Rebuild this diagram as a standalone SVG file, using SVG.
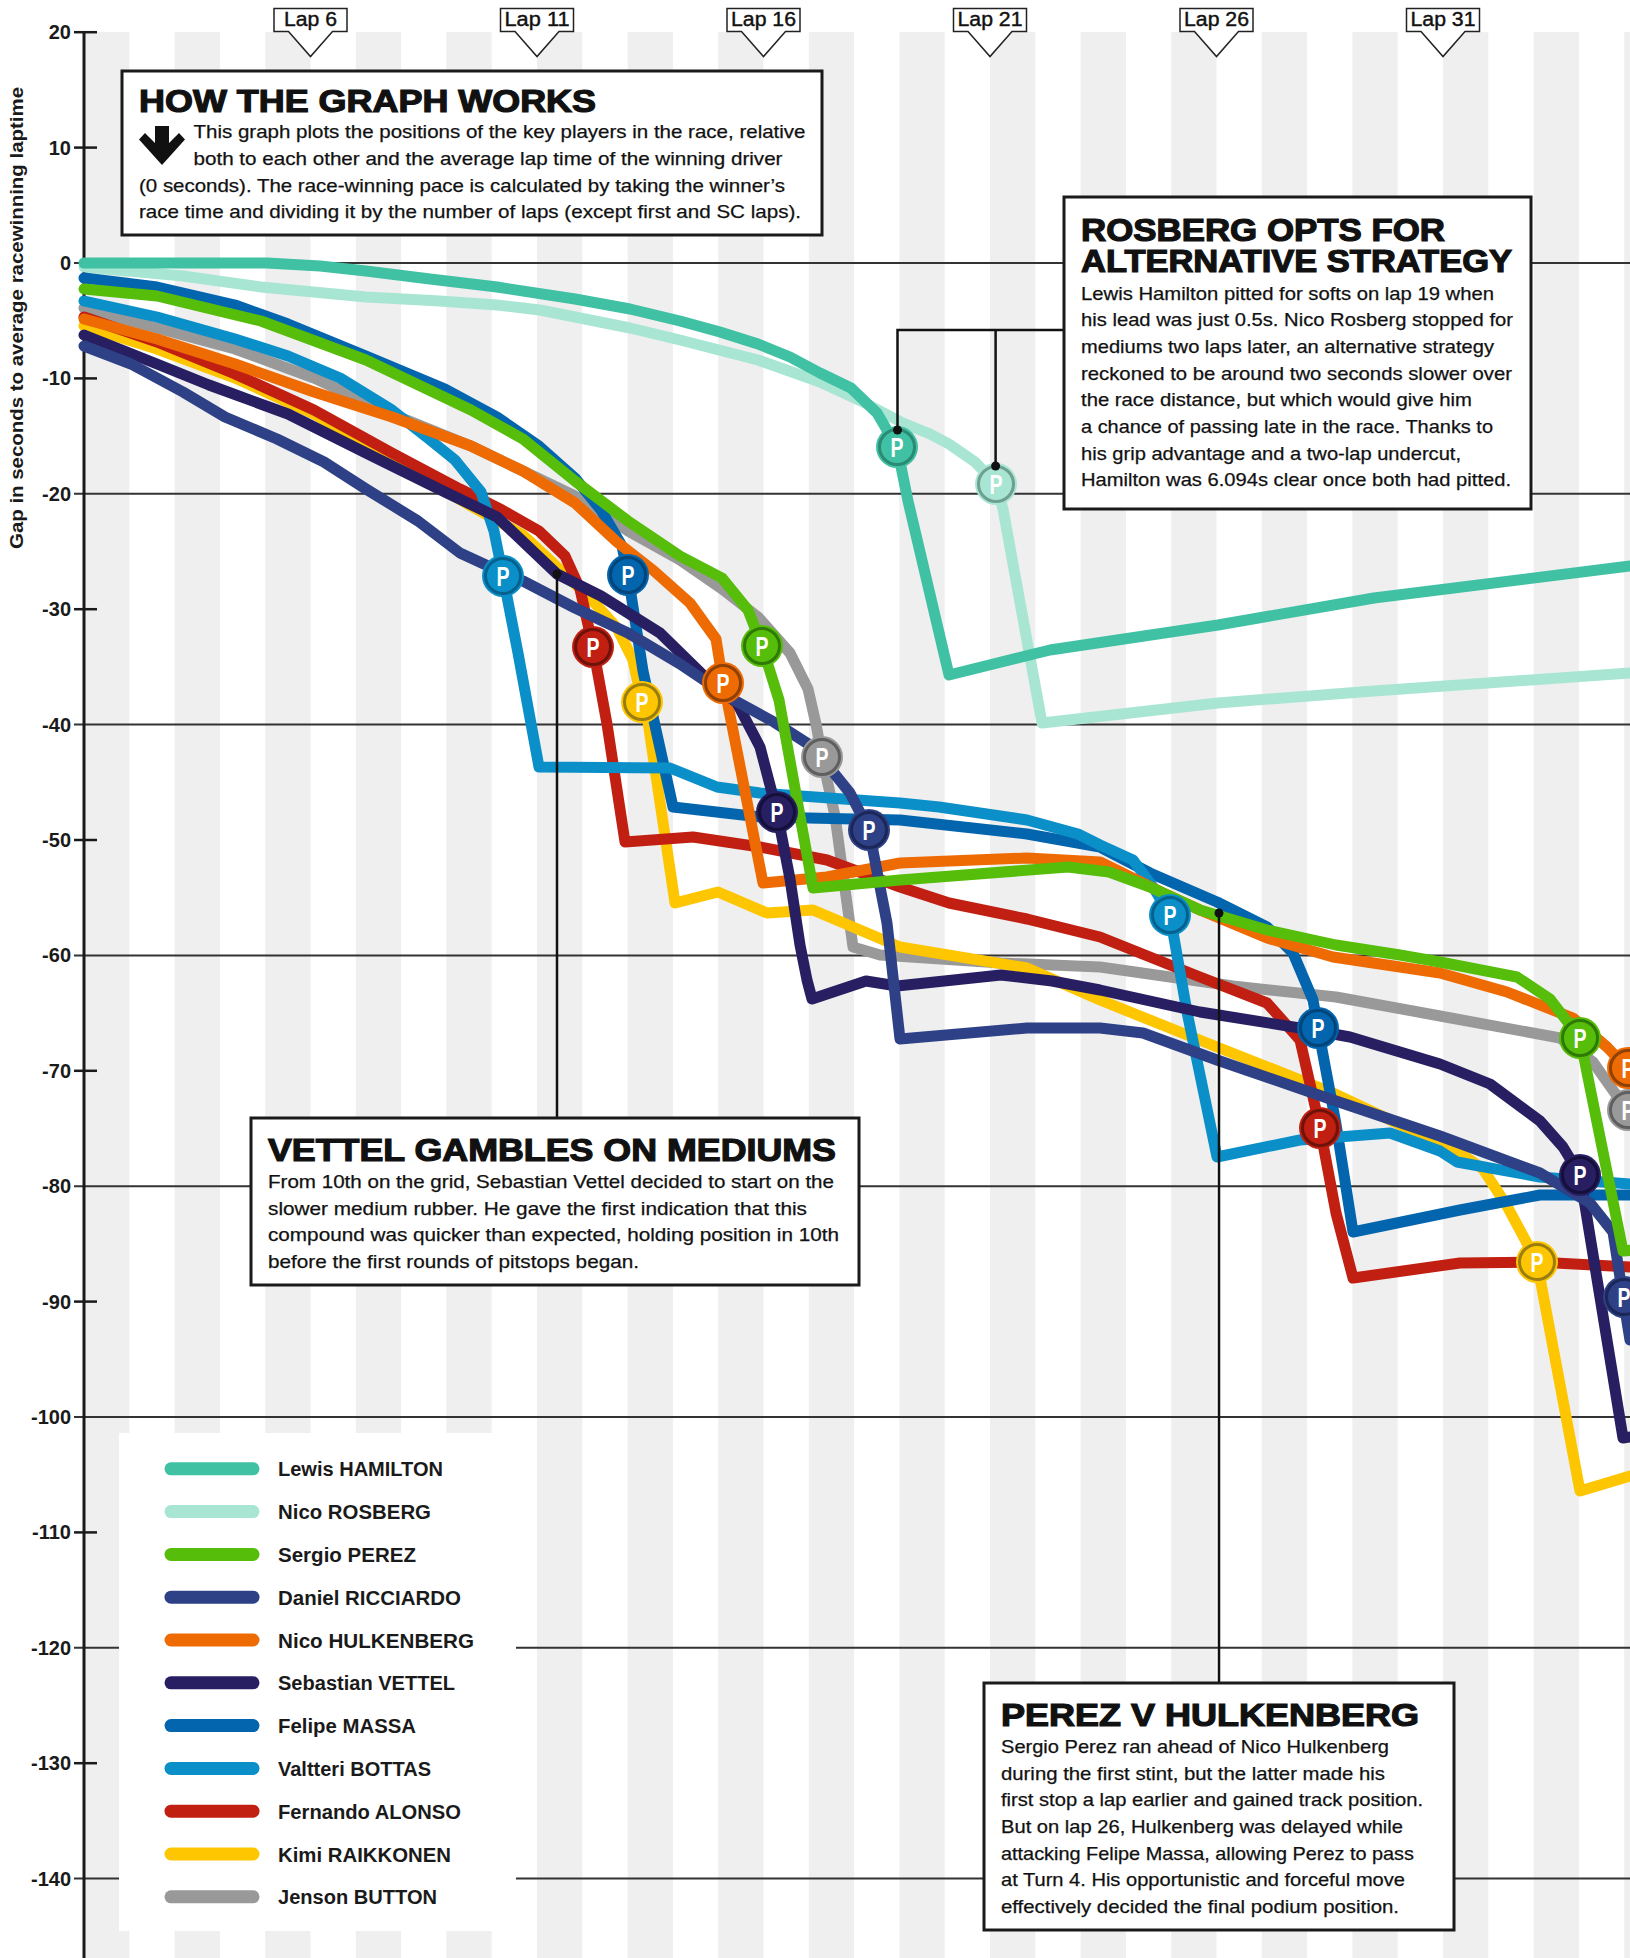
<svg xmlns="http://www.w3.org/2000/svg" width="1630" height="1958" viewBox="0 0 1630 1958">
<style>
.stripe{fill:#efefef}
.grid{stroke:#333;stroke-width:2}
.tick{stroke:#1a1a1a;stroke-width:2.5}
.axis{stroke:#1a1a1a;stroke-width:3}
.tl{font-family:'Liberation Sans Narrow','Liberation Sans',Arial,sans-serif;font-size:20px;font-weight:bold;fill:#1a1a1a;text-anchor:end}
.ln{fill:none;stroke-width:11;stroke-linejoin:round;stroke-linecap:round}
.box{fill:#fff;stroke:#1a1a1a;stroke-width:3}
.ttl{font-family:'Liberation Sans',Arial,sans-serif;font-weight:bold;font-size:31px;fill:#111;stroke:#111;stroke-width:1.2}
.bd{font-family:'Liberation Sans Narrow','Liberation Sans',Arial,sans-serif;font-size:18.5px;fill:#111;stroke:#111;stroke-width:0.25}
.conn{stroke:#111;stroke-width:2.5;fill:none}
.dot{fill:#111}
.lap{fill:#fff;stroke:#222;stroke-width:1.5}
.lt{font-family:'Liberation Sans Narrow','Liberation Sans',Arial,sans-serif;font-size:20px;fill:#111;stroke:#111;stroke-width:0.4;text-anchor:middle}
.pt{font-family:'Liberation Sans Narrow','Liberation Sans',Arial,sans-serif;font-weight:bold;font-size:27px;fill:#fff;text-anchor:middle}
.leg{font-family:'Liberation Sans Narrow','Liberation Sans',Arial,sans-serif;font-size:20px;font-weight:bold;fill:#1a1a1a}
.sw{stroke-width:13;stroke-linecap:round}
.ham{stroke:#40C1A4}.ros{stroke:#A8E6D3}.per{stroke:#56BD0A}.ric{stroke:#2E4187}.hul{stroke:#EE6A03}.vet{stroke:#281F63}.mas{stroke:#0365AE}.bot{stroke:#0A8FC9}.alo{stroke:#C11F12}.rai{stroke:#FDC601}.but{stroke:#999999}
</style>
<rect width="1630" height="1958" fill="#fff"/>
<g id="stripes">
<rect class="stripe" x="84" y="32" width="45.3" height="1926"/>
<rect class="stripe" x="174.6" y="32" width="45.3" height="1926"/>
<rect class="stripe" x="265.2" y="32" width="45.3" height="1926"/>
<rect class="stripe" x="355.8" y="32" width="45.3" height="1926"/>
<rect class="stripe" x="446.4" y="32" width="45.3" height="1926"/>
<rect class="stripe" x="537" y="32" width="45.3" height="1926"/>
<rect class="stripe" x="627.6" y="32" width="45.3" height="1926"/>
<rect class="stripe" x="718.2" y="32" width="45.3" height="1926"/>
<rect class="stripe" x="808.8" y="32" width="45.3" height="1926"/>
<rect class="stripe" x="899.4" y="32" width="45.3" height="1926"/>
<rect class="stripe" x="990" y="32" width="45.3" height="1926"/>
<rect class="stripe" x="1080.6" y="32" width="45.3" height="1926"/>
<rect class="stripe" x="1171.2" y="32" width="45.3" height="1926"/>
<rect class="stripe" x="1261.8" y="32" width="45.3" height="1926"/>
<rect class="stripe" x="1352.4" y="32" width="45.3" height="1926"/>
<rect class="stripe" x="1443" y="32" width="45.3" height="1926"/>
<rect class="stripe" x="1533.6" y="32" width="45.3" height="1926"/>
<rect class="stripe" x="1624.2" y="32" width="45.3" height="1926"/>
</g>
<g id="grid">
<line class="grid" x1="74" y1="263" x2="1630" y2="263"/>
<line class="grid" x1="74" y1="493.8" x2="1630" y2="493.8"/>
<line class="grid" x1="74" y1="724.6" x2="1630" y2="724.6"/>
<line class="grid" x1="74" y1="955.4" x2="1630" y2="955.4"/>
<line class="grid" x1="74" y1="1186.2" x2="1630" y2="1186.2"/>
<line class="grid" x1="74" y1="1417" x2="1630" y2="1417"/>
<line class="grid" x1="74" y1="1647.8" x2="1630" y2="1647.8"/>
<line class="grid" x1="74" y1="1878.6" x2="1630" y2="1878.6"/>
</g>
<g id="y-axis">
<line class="axis" x1="84" y1="32" x2="84" y2="1958"/>
<line class="tick" x1="74" y1="32.2" x2="97" y2="32.2"/>
<line class="tick" x1="74" y1="147.6" x2="97" y2="147.6"/>
<line class="tick" x1="74" y1="378.4" x2="97" y2="378.4"/>
<line class="tick" x1="74" y1="609.2" x2="97" y2="609.2"/>
<line class="tick" x1="74" y1="840" x2="97" y2="840"/>
<line class="tick" x1="74" y1="1070.8" x2="97" y2="1070.8"/>
<line class="tick" x1="74" y1="1301.6" x2="97" y2="1301.6"/>
<line class="tick" x1="74" y1="1532.4" x2="97" y2="1532.4"/>
<line class="tick" x1="74" y1="1763.2" x2="97" y2="1763.2"/>
<text class="tl" x="71" y="39.2">20</text>
<text class="tl" x="71" y="154.6">10</text>
<text class="tl" x="71" y="270">0</text>
<text class="tl" x="71" y="385.4">-10</text>
<text class="tl" x="71" y="500.8">-20</text>
<text class="tl" x="71" y="616.2">-30</text>
<text class="tl" x="71" y="731.6">-40</text>
<text class="tl" x="71" y="847">-50</text>
<text class="tl" x="71" y="962.4">-60</text>
<text class="tl" x="71" y="1077.8">-70</text>
<text class="tl" x="71" y="1193.2">-80</text>
<text class="tl" x="71" y="1308.6">-90</text>
<text class="tl" x="71" y="1424">-100</text>
<text class="tl" x="71" y="1539.4">-110</text>
<text class="tl" x="71" y="1654.8">-120</text>
<text class="tl" x="71" y="1770.2">-130</text>
<text class="tl" x="71" y="1885.6">-140</text>
<text transform="translate(23,318) rotate(-90)" text-anchor="middle" font-family="'Liberation Sans',Arial,sans-serif" font-size="18" font-weight="bold" fill="#1a1a1a" textLength="462" lengthAdjust="spacingAndGlyphs">Gap in seconds to average racewinning laptime</text>
</g>
<g id="connectors-data">
<polyline id="line-rosberg" class="ln ros" points="84,267 183,276 261,287 366,297 440,301 497,305 540,310 575,317 630,328 680,340 758,360 820,382 861,401 903,423 930,434 949,444 975,462 996,484 1003,509 1042,723 1218,703 1374,691 1630,673"/>
<polyline id="line-hamilton" class="ln ham" points="84,263 267,263 320,266 366,271 430,279 497,287 575,299 630,309 680,321 720,332 758,344 790,357 820,373 851,388 877,413 897,447 908,501 949,675 1050,650 1218,625 1374,598 1630,566"/>
<polyline id="line-button" class="ln but" points="84,308 157,328 235,349 314,378 392,414 471,446 523,471 575,496 628,531 680,560 722,589 758,617 790,653 808,689 816,724 822,757 835,816 853,947 880,955 1001,963 1100,967 1233,986 1336,997 1440,1016 1560,1038 1593,1062 1627,1110 1640,1140"/>
<polyline id="line-raikkonen" class="ln rai" points="84,326 157,349 235,378 314,414 392,460 471,506 523,535 554,564 591,599 617,628 633,660 642,702 648,722 675,903 718,892 767,913 813,910 860,930 900,947 1027,968 1100,1000 1217,1047 1333,1093 1460,1153 1483,1169 1507,1206 1537,1262 1580,1491 1630,1476"/>
<polyline id="line-alonso" class="ln alo" points="84,317 157,342 235,374 314,410 392,453 460,489 502,510 539,531 565,556 580,589 593,647 607,724 625,842 693,837 760,847 827,860 900,887 949,903 1027,919 1100,937 1200,977 1267,1003 1300,1040 1320,1128 1336,1213 1353,1278 1460,1263 1537,1262 1630,1267"/>
<polyline id="line-massa" class="ln mas" points="84,278 157,287 235,305 288,324 366,356 445,389 497,417 539,446 575,478 601,510 622,546 628,575 643,671 673,807 760,817 900,820 1027,834 1100,847 1150,873 1217,902 1267,927 1293,953 1313,1000 1318,1028 1336,1124 1353,1232 1460,1210 1540,1195 1630,1195"/>
<polyline id="line-bottas" class="ln bot" points="84,301 157,317 235,339 288,356 340,378 392,410 429,439 455,460 481,492 494,531 503,576 518,653 539,767 670,768 717,787 760,793 900,803 939,807 1027,820 1078,834 1100,845 1133,860 1153,887 1170,915 1187,1012 1217,1157 1300,1140 1390,1133 1440,1151 1457,1162 1540,1177 1630,1184"/>
<polyline id="line-hulkenberg" class="ln hul" points="84,319 157,339 235,364 314,392 392,417 471,446 523,471 575,503 617,542 654,571 690,603 716,639 723,683 727,700 763,883 827,877 900,863 1027,858 1100,862 1161,892 1200,910 1267,938 1333,957 1440,973 1507,992 1573,1018 1607,1047 1627,1068 1640,1100"/>
<polyline id="line-vettel" class="ln vet" points="84,335 157,364 209,385 288,414 366,453 445,492 497,517 557,574 601,596 660,633 706,678 737,703 760,747 777,812 790,879 800,945 807,980 812,999 866,981 897,986 1001,975 1052,981 1100,990 1200,1012 1300,1028 1350,1037 1440,1064 1490,1084 1540,1121 1563,1147 1580,1175 1623,1438 1645,1435"/>
<polyline id="line-ricciardo" class="ln ric" points="84,346 131,364 183,392 225,417 277,439 324,462 366,489 418,521 460,553 486,565 523,581 575,608 628,633 680,664 732,699 774,722 813,747 850,793 869,830 887,923 900,1039 1027,1028 1100,1028 1143,1033 1217,1060 1333,1100 1440,1136 1540,1173 1590,1203 1613,1232 1623,1297 1630,1340"/>
<polyline id="line-perez" class="ln per" points="84,289 157,296 261,321 366,360 471,410 523,439 575,481 628,521 680,556 722,578 748,610 762,646 779,700 813,888 900,880 1068,867 1109,872 1150,887 1200,910 1267,930 1336,945 1400,955 1440,962 1517,977 1550,999 1580,1038 1623,1251 1645,1249"/>
</g>
<g id="pitstops">
<g id="pit-hamilton"><circle cx="897" cy="447" r="21" fill="#40C1A4"/><circle cx="897" cy="447" r="17.5" fill="#40C1A4" stroke="#2a8a72" stroke-width="3"/><text class="pt" x="897" y="457" textLength="13" lengthAdjust="spacingAndGlyphs">P</text></g>
<g id="pit-rosberg"><circle cx="996" cy="484" r="21" fill="#A8E6D3"/><circle cx="996" cy="484" r="17.5" fill="#A8E6D3" stroke="#6f9f90" stroke-width="3"/><text class="pt" x="996" y="494" textLength="13" lengthAdjust="spacingAndGlyphs">P</text></g>
<g id="pit-bottas-1"><circle cx="503" cy="576" r="21" fill="#0A8FC9"/><circle cx="503" cy="576" r="17.5" fill="#0A8FC9" stroke="#05628f" stroke-width="3"/><text class="pt" x="503" y="586" textLength="13" lengthAdjust="spacingAndGlyphs">P</text></g>
<g id="pit-massa-1"><circle cx="628" cy="575" r="21" fill="#0365AE"/><circle cx="628" cy="575" r="17.5" fill="#0365AE" stroke="#02457a" stroke-width="3"/><text class="pt" x="628" y="585" textLength="13" lengthAdjust="spacingAndGlyphs">P</text></g>
<g id="pit-alonso-1"><circle cx="593" cy="647" r="21" fill="#C11F12"/><circle cx="593" cy="647" r="17.5" fill="#C11F12" stroke="#6e120a" stroke-width="3"/><text class="pt" x="593" y="657" textLength="13" lengthAdjust="spacingAndGlyphs">P</text></g>
<g id="pit-raikkonen-1"><circle cx="642" cy="702" r="21" fill="#FDC601"/><circle cx="642" cy="702" r="17.5" fill="#FDC601" stroke="#9a7d10" stroke-width="3"/><text class="pt" x="642" y="712" textLength="13" lengthAdjust="spacingAndGlyphs">P</text></g>
<g id="pit-hulkenberg-1"><circle cx="723" cy="683" r="21" fill="#EE6A03"/><circle cx="723" cy="683" r="17.5" fill="#EE6A03" stroke="#8f4005" stroke-width="3"/><text class="pt" x="723" y="693" textLength="13" lengthAdjust="spacingAndGlyphs">P</text></g>
<g id="pit-perez-1"><circle cx="762" cy="646" r="21" fill="#56BD0A"/><circle cx="762" cy="646" r="17.5" fill="#56BD0A" stroke="#2f7a06" stroke-width="3"/><text class="pt" x="762" y="656" textLength="13" lengthAdjust="spacingAndGlyphs">P</text></g>
<g id="pit-button-1"><circle cx="822" cy="757" r="21" fill="#999999"/><circle cx="822" cy="757" r="17.5" fill="#999999" stroke="#5f5f5f" stroke-width="3"/><text class="pt" x="822" y="767" textLength="13" lengthAdjust="spacingAndGlyphs">P</text></g>
<g id="pit-vettel-1"><circle cx="777" cy="812" r="21" fill="#281F63"/><circle cx="777" cy="812" r="17.5" fill="#281F63" stroke="#15103a" stroke-width="3"/><text class="pt" x="777" y="822" textLength="13" lengthAdjust="spacingAndGlyphs">P</text></g>
<g id="pit-ricciardo-1"><circle cx="869" cy="830" r="21" fill="#2E4187"/><circle cx="869" cy="830" r="17.5" fill="#2E4187" stroke="#1b2756" stroke-width="3"/><text class="pt" x="869" y="840" textLength="13" lengthAdjust="spacingAndGlyphs">P</text></g>
<g id="pit-bottas-2"><circle cx="1170" cy="915" r="21" fill="#0A8FC9"/><circle cx="1170" cy="915" r="17.5" fill="#0A8FC9" stroke="#05628f" stroke-width="3"/><text class="pt" x="1170" y="925" textLength="13" lengthAdjust="spacingAndGlyphs">P</text></g>
<g id="pit-massa-2"><circle cx="1318" cy="1028" r="21" fill="#0365AE"/><circle cx="1318" cy="1028" r="17.5" fill="#0365AE" stroke="#02457a" stroke-width="3"/><text class="pt" x="1318" y="1038" textLength="13" lengthAdjust="spacingAndGlyphs">P</text></g>
<g id="pit-alonso-2"><circle cx="1320" cy="1128" r="21" fill="#C11F12"/><circle cx="1320" cy="1128" r="17.5" fill="#C11F12" stroke="#6e120a" stroke-width="3"/><text class="pt" x="1320" y="1138" textLength="13" lengthAdjust="spacingAndGlyphs">P</text></g>
<g id="pit-raikkonen-2"><circle cx="1537" cy="1262" r="21" fill="#FDC601"/><circle cx="1537" cy="1262" r="17.5" fill="#FDC601" stroke="#9a7d10" stroke-width="3"/><text class="pt" x="1537" y="1272" textLength="13" lengthAdjust="spacingAndGlyphs">P</text></g>
<g id="pit-perez-2"><circle cx="1580" cy="1038" r="21" fill="#56BD0A"/><circle cx="1580" cy="1038" r="17.5" fill="#56BD0A" stroke="#2f7a06" stroke-width="3"/><text class="pt" x="1580" y="1048" textLength="13" lengthAdjust="spacingAndGlyphs">P</text></g>
<g id="pit-vettel-2"><circle cx="1580" cy="1175" r="21" fill="#281F63"/><circle cx="1580" cy="1175" r="17.5" fill="#281F63" stroke="#15103a" stroke-width="3"/><text class="pt" x="1580" y="1185" textLength="13" lengthAdjust="spacingAndGlyphs">P</text></g>
<g id="pit-hulkenberg-2"><circle cx="1628" cy="1068" r="21" fill="#EE6A03"/><circle cx="1628" cy="1068" r="17.5" fill="#EE6A03" stroke="#8f4005" stroke-width="3"/><text class="pt" x="1628" y="1078" textLength="13" lengthAdjust="spacingAndGlyphs">P</text></g>
<g id="pit-button-2"><circle cx="1628" cy="1110" r="21" fill="#999999"/><circle cx="1628" cy="1110" r="17.5" fill="#999999" stroke="#5f5f5f" stroke-width="3"/><text class="pt" x="1628" y="1120" textLength="13" lengthAdjust="spacingAndGlyphs">P</text></g>
<g id="pit-ricciardo-2"><circle cx="1624" cy="1297" r="21" fill="#2E4187"/><circle cx="1624" cy="1297" r="17.5" fill="#2E4187" stroke="#1b2756" stroke-width="3"/><text class="pt" x="1624" y="1307" textLength="13" lengthAdjust="spacingAndGlyphs">P</text></g>
</g>
<g id="connectors">
<polyline class="conn" points="1064,330 897.5,330 897.5,430"/>
<line class="conn" x1="995.6" y1="330" x2="995.6" y2="466"/>
<line class="conn" x1="557" y1="574" x2="557" y2="1118"/>
<line class="conn" x1="1219" y1="913" x2="1219" y2="1683"/>
<circle class="dot" cx="897.5" cy="430" r="4.5"/>
<circle class="dot" cx="995.6" cy="466" r="4.5"/>
<circle class="dot" cx="557" cy="574" r="4.5"/>
<circle class="dot" cx="1219" cy="913" r="4.5"/>
</g>
<g id="box-how">
<rect class="box" x="122" y="71" width="700" height="164"/>
<text class="ttl" x="139" y="111.5" textLength="457" lengthAdjust="spacingAndGlyphs">HOW THE GRAPH WORKS</text>
<path d="M155,126 H169 V143 L179,133 L185,139.5 L162,165 L139,139.5 L145,133 L155,143 Z" fill="#111"/>
<text class="bd" x="193.5" y="138" textLength="612" lengthAdjust="spacingAndGlyphs">This graph plots the positions of the key players in the race, relative</text>
<text class="bd" x="193.5" y="165" textLength="589" lengthAdjust="spacingAndGlyphs">both to each other and the average lap time of the winning driver</text>
<text class="bd" x="139" y="191.5" textLength="646" lengthAdjust="spacingAndGlyphs">(0 seconds). The race-winning pace is calculated by taking the winner’s</text>
<text class="bd" x="139" y="218" textLength="662" lengthAdjust="spacingAndGlyphs">race time and dividing it by the number of laps (except first and SC laps).</text>
</g>
<g id="box-rosberg">
<rect class="box" x="1064" y="197" width="467" height="312"/>
<text class="ttl" x="1081" y="240.5" textLength="364" lengthAdjust="spacingAndGlyphs">ROSBERG OPTS FOR</text>
<text class="ttl" x="1081" y="272" textLength="431" lengthAdjust="spacingAndGlyphs">ALTERNATIVE STRATEGY</text>
<text class="bd" x="1081" y="299.5" textLength="413" lengthAdjust="spacingAndGlyphs">Lewis Hamilton pitted for softs on lap 19 when</text>
<text class="bd" x="1081" y="326.2" textLength="432" lengthAdjust="spacingAndGlyphs">his lead was just 0.5s. Nico Rosberg stopped for</text>
<text class="bd" x="1081" y="352.9" textLength="413" lengthAdjust="spacingAndGlyphs">mediums two laps later, an alternative strategy</text>
<text class="bd" x="1081" y="379.6" textLength="431" lengthAdjust="spacingAndGlyphs">reckoned to be around two seconds slower over</text>
<text class="bd" x="1081" y="406.3" textLength="391" lengthAdjust="spacingAndGlyphs">the race distance, but which would give him</text>
<text class="bd" x="1081" y="433" textLength="412" lengthAdjust="spacingAndGlyphs">a chance of passing late in the race. Thanks to</text>
<text class="bd" x="1081" y="459.7" textLength="380" lengthAdjust="spacingAndGlyphs">his grip advantage and a two-lap undercut,</text>
<text class="bd" x="1081" y="486.4" textLength="430" lengthAdjust="spacingAndGlyphs">Hamilton was 6.094s clear once both had pitted.</text>
</g>
<g id="box-vettel">
<rect class="box" x="251" y="1118" width="608" height="167"/>
<text class="ttl" x="268" y="1160.5" textLength="568" lengthAdjust="spacingAndGlyphs">VETTEL GAMBLES ON MEDIUMS</text>
<text class="bd" x="268" y="1188" textLength="566" lengthAdjust="spacingAndGlyphs">From 10th on the grid, Sebastian Vettel decided to start on the</text>
<text class="bd" x="268" y="1214.7" textLength="539" lengthAdjust="spacingAndGlyphs">slower medium rubber. He gave the first indication that this</text>
<text class="bd" x="268" y="1241.4" textLength="571" lengthAdjust="spacingAndGlyphs">compound was quicker than expected, holding position in 10th</text>
<text class="bd" x="268" y="1268" textLength="371" lengthAdjust="spacingAndGlyphs">before the first rounds of pitstops began.</text>
</g>
<g id="box-perez">
<rect class="box" x="984" y="1683" width="470" height="247"/>
<text class="ttl" x="1001" y="1725.5" textLength="418" lengthAdjust="spacingAndGlyphs">PEREZ V HULKENBERG</text>
<text class="bd" x="1001" y="1753" textLength="388" lengthAdjust="spacingAndGlyphs">Sergio Perez ran ahead of Nico Hulkenberg</text>
<text class="bd" x="1001" y="1779.7" textLength="384" lengthAdjust="spacingAndGlyphs">during the first stint, but the latter made his</text>
<text class="bd" x="1001" y="1806.3" textLength="422" lengthAdjust="spacingAndGlyphs">first stop a lap earlier and gained track position.</text>
<text class="bd" x="1001" y="1833" textLength="402" lengthAdjust="spacingAndGlyphs">But on lap 26, Hulkenberg was delayed while</text>
<text class="bd" x="1001" y="1859.6" textLength="413" lengthAdjust="spacingAndGlyphs">attacking Felipe Massa, allowing Perez to pass</text>
<text class="bd" x="1001" y="1886.2" textLength="404" lengthAdjust="spacingAndGlyphs">at Turn 4. His opportunistic and forceful move</text>
<text class="bd" x="1001" y="1912.8" textLength="398" lengthAdjust="spacingAndGlyphs">effectively decided the final podium position.</text>
</g>
<g id="legend">
<rect x="119" y="1433" width="397" height="498" fill="#fff"/>
<line class="sw ham" x1="171" y1="1468.8" x2="253" y2="1468.8"/><text class="leg" x="278" y="1476.3" textLength="165" lengthAdjust="spacingAndGlyphs">Lewis HAMILTON</text>
<line class="sw ros" x1="171" y1="1511.6" x2="253" y2="1511.6"/><text class="leg" x="278" y="1519.1" textLength="153" lengthAdjust="spacingAndGlyphs">Nico ROSBERG</text>
<line class="sw per" x1="171" y1="1554.4" x2="253" y2="1554.4"/><text class="leg" x="278" y="1561.9" textLength="138" lengthAdjust="spacingAndGlyphs">Sergio PEREZ</text>
<line class="sw ric" x1="171" y1="1597.2" x2="253" y2="1597.2"/><text class="leg" x="278" y="1604.7" textLength="183" lengthAdjust="spacingAndGlyphs">Daniel RICCIARDO</text>
<line class="sw hul" x1="171" y1="1640" x2="253" y2="1640"/><text class="leg" x="278" y="1647.5" textLength="196" lengthAdjust="spacingAndGlyphs">Nico HULKENBERG</text>
<line class="sw vet" x1="171" y1="1682.8" x2="253" y2="1682.8"/><text class="leg" x="278" y="1690.3" textLength="177" lengthAdjust="spacingAndGlyphs">Sebastian VETTEL</text>
<line class="sw mas" x1="171" y1="1725.6" x2="253" y2="1725.6"/><text class="leg" x="278" y="1733.1" textLength="138" lengthAdjust="spacingAndGlyphs">Felipe MASSA</text>
<line class="sw bot" x1="171" y1="1768.4" x2="253" y2="1768.4"/><text class="leg" x="278" y="1775.9" textLength="153" lengthAdjust="spacingAndGlyphs">Valtteri BOTTAS</text>
<line class="sw alo" x1="171" y1="1811.2" x2="253" y2="1811.2"/><text class="leg" x="278" y="1818.7" textLength="183" lengthAdjust="spacingAndGlyphs">Fernando ALONSO</text>
<line class="sw rai" x1="171" y1="1854" x2="253" y2="1854"/><text class="leg" x="278" y="1861.5" textLength="173" lengthAdjust="spacingAndGlyphs">Kimi RAIKKONEN</text>
<line class="sw but" x1="171" y1="1896.8" x2="253" y2="1896.8"/><text class="leg" x="278" y="1904.3" textLength="159" lengthAdjust="spacingAndGlyphs">Jenson BUTTON</text>
</g>
<g id="lap-markers">
<g id="lap-6"><path class="lap" d="M274,8.5 H347 V31.5 H332.5 L310.5,56.5 L288.5,31.5 H274 Z"/><text class="lt" x="310.5" y="26" textLength="53" lengthAdjust="spacingAndGlyphs">Lap 6</text></g>
<g id="lap-11"><path class="lap" d="M500.5,8.5 H573.5 V31.5 H559 L537,56.5 L515,31.5 H500.5 Z"/><text class="lt" x="537" y="26" textLength="65" lengthAdjust="spacingAndGlyphs">Lap 11</text></g>
<g id="lap-16"><path class="lap" d="M727,8.5 H800 V31.5 H785.5 L763.5,56.5 L741.5,31.5 H727 Z"/><text class="lt" x="763.5" y="26" textLength="65" lengthAdjust="spacingAndGlyphs">Lap 16</text></g>
<g id="lap-21"><path class="lap" d="M953.5,8.5 H1026.5 V31.5 H1012 L990,56.5 L968,31.5 H953.5 Z"/><text class="lt" x="990" y="26" textLength="65" lengthAdjust="spacingAndGlyphs">Lap 21</text></g>
<g id="lap-26"><path class="lap" d="M1180,8.5 H1253 V31.5 H1238.5 L1216.5,56.5 L1194.5,31.5 H1180 Z"/><text class="lt" x="1216.5" y="26" textLength="65" lengthAdjust="spacingAndGlyphs">Lap 26</text></g>
<g id="lap-31"><path class="lap" d="M1406.5,8.5 H1479.5 V31.5 H1465 L1443,56.5 L1421,31.5 H1406.5 Z"/><text class="lt" x="1443" y="26" textLength="65" lengthAdjust="spacingAndGlyphs">Lap 31</text></g>
</g>
</svg>
